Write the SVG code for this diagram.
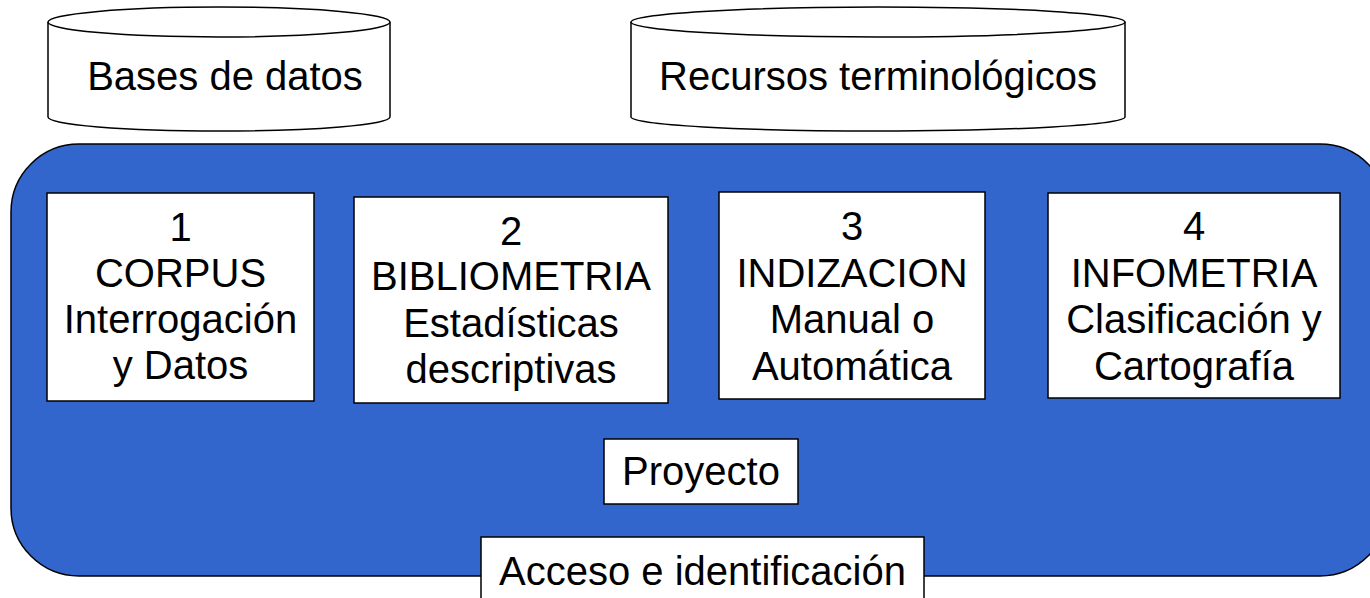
<svg xmlns="http://www.w3.org/2000/svg" width="1370" height="598" viewBox="0 0 1370 598">
<style>
.t{font-family:"Liberation Sans",Arial,sans-serif;font-size:40px;fill:#000;text-anchor:middle}
.box{fill:#fff;stroke:#000;stroke-width:1.5}
.cyl{fill:#fff;stroke:#000;stroke-width:1.5}
</style>
<rect width="1370" height="598" fill="#fff"/>
<g id="frame">
<rect x="11" y="144" width="1377" height="432" rx="68" ry="68" fill="#3366cc" stroke="#000" stroke-width="1.5"/>
</g>
<g id="bases">
<path class="cyl" d="M48,22 L48,117 A171,14 0 0 0 390,117 L390,22"/>
<ellipse class="cyl" cx="219" cy="22" rx="171" ry="15"/>
<text class="t" x="225" y="90">Bases de datos</text>
</g>
<g id="recursos">
<path class="cyl" d="M631,22 L631,117 A247,14 0 0 0 1125,117 L1125,22"/>
<ellipse class="cyl" cx="878" cy="22" rx="247" ry="15"/>
<text class="t" x="878" y="90">Recursos terminológicos</text>
</g>
<g id="n1">
<rect class="box" x="47" y="193" width="267" height="208"/>
<text class="t" x="180.5" y="241">1</text>
<text class="t" x="180.5" y="287">CORPUS</text>
<text class="t" x="180.5" y="333">Interrogación</text>
<text class="t" x="180.5" y="379">y Datos</text>
</g>
<g id="n2">
<rect class="box" x="354" y="197" width="314" height="206"/>
<text class="t" x="511" y="245">2</text>
<text class="t" x="511" y="290">BIBLIOMETRIA</text>
<text class="t" x="511" y="337">Estadísticas</text>
<text class="t" x="511" y="383">descriptivas</text>
</g>
<g id="n3">
<rect class="box" x="719" y="192" width="266" height="207"/>
<text class="t" x="852" y="240">3</text>
<text class="t" x="852" y="287">INDIZACION</text>
<text class="t" x="852" y="333">Manual o</text>
<text class="t" x="852" y="380">Automática</text>
</g>
<g id="n4">
<rect class="box" x="1048" y="193" width="292" height="205"/>
<text class="t" x="1194" y="240">4</text>
<text class="t" x="1194" y="287">INFOMETRIA</text>
<text class="t" x="1194" y="333">Clasificación y</text>
<text class="t" x="1194" y="380">Cartografía</text>
</g>
<g id="proyecto">
<rect class="box" x="604" y="439" width="194" height="65"/>
<text class="t" x="701" y="485">Proyecto</text>
</g>
<g id="acceso">
<rect class="box" x="481" y="537" width="443" height="70"/>
<text class="t" x="702.5" y="585">Acceso e identificación</text>
</g>
<g id="connectors"></g>
</svg>
